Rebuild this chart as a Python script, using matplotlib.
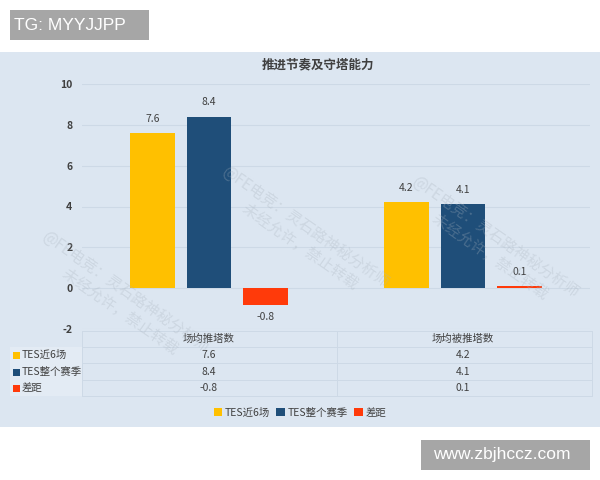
import numpy as np
import matplotlib.pyplot as plt
from matplotlib.patches import Rectangle, Patch
from matplotlib.lines import Line2D
import matplotlib.transforms as mtrans

plt.rcParams['font.family'] = ['Noto Sans CJK SC', 'DejaVu Sans']

# data
categories = ['场均推塔数', '场均被推塔数']
series_names = ['TES近6场', 'TES整个赛季', '差距']
recent6 = [7.6, 4.2]
season = [8.4, 4.1]
diff = [-0.8, 0.1]
colors = ['#ffc000', '#1f4e79', '#ff3a0a']
title = '推进节奏及守塔能力'
yticks = [-2, 0, 2, 4, 6, 8, 10]

W, H = 600, 480
fig = plt.figure(figsize=(6, 4.8), dpi=100)
fig.patch.set_facecolor('white')


def fx(px):
    return px / W


def fy(py):
    return 1 - py / H


# light blue chart area
fig.patches.append(Rectangle((0, fy(427)), 1, (427 - 52) / H, transform=fig.transFigure,
                             facecolor='#dce6f1', edgecolor='none', zorder=-5))

# header / footer boxes
fig.patches.append(Rectangle((fx(10), fy(40)), 139 / W, 30 / H, transform=fig.transFigure,
                             facecolor='#a6a6a6', edgecolor='none', zorder=-4))
fig.text(fx(14), fy(25.5), 'TG: MYYJJPP', color='white', fontsize=12.5,
         family='Liberation Sans', va='center', ha='left')
fig.patches.append(Rectangle((fx(421), fy(470)), 169 / W, 30 / H, transform=fig.transFigure,
                             facecolor='#a6a6a6', edgecolor='none', zorder=-4))
fig.text(fx(502), fy(455), 'www.zbjhccz.com', color='white', fontsize=12.5,
         family='Liberation Sans', va='center', ha='center')

# plot area
ax = fig.add_axes([fx(82), fy(329), (590 - 82) / W, (329 - 84) / H])
ax.set_zorder(2)
ax.set_facecolor('none')
ax.set_xlim(-0.5, 1.5)
ax.set_ylim(-2, 10)
for s in ax.spines.values():
    s.set_visible(False)
ax.set_yticks(yticks)
ax.set_yticklabels([str(t) for t in yticks], fontsize=7.5, color='#404040', fontweight='bold')
ax.tick_params(axis='y', length=0, pad=7)
ax.set_xticks([])
ax.grid(axis='y', color='#cdd9e6', linewidth=0.8)
ax.set_axisbelow(True)

x = np.arange(len(categories))
bw = 0.175
off = 0.222
all_series = [recent6, season, diff]
for i, (vals, c) in enumerate(zip(all_series, colors)):
    xs = x + (i - 1) * off
    ax.bar(xs, vals, width=bw, color=c, zorder=2)
    for xx, v in zip(xs, vals):
        if v >= 0:
            ax.text(xx, v + 0.45, f'{v}', ha='center', va='bottom', fontsize=7.5, color='#404040')
        else:
            ax.text(xx, v - 0.35, f'{v}', ha='center', va='top', fontsize=7.5, color='#404040')

fig.text(fx(318), fy(65), title, ha='center', va='center', fontsize=9,
         color='#404040', fontweight='bold')

# data table under the chart
tr = mtrans.blended_transform_factory(ax.transData, fig.transFigure)
row_y = [355, 372, 388]
head_y = 339
for xi, cat in zip(x, categories):
    ax.text(xi, fy(head_y), cat, transform=tr, ha='center', va='center', fontsize=7.5,
            color='#404040', clip_on=False)
    for ry, vals in zip(row_y, all_series):
        ax.text(xi, fy(ry), f'{vals[xi]}', transform=tr, ha='center', va='center',
                fontsize=7.5, color='#404040', clip_on=False)

line_c = '#cdd9e6'
for ly in [331, 347, 363, 380, 396]:
    fig.add_artist(Line2D([fx(82), fx(592)], [fy(ly), fy(ly)], color=line_c, lw=0.7, zorder=-3))
for lx in [82, 337, 592]:
    fig.add_artist(Line2D([fx(lx), fx(lx)], [fy(331), fy(396)], color=line_c, lw=0.7, zorder=-3))
fig.patches.append(Rectangle((fx(10), fy(396)), 72 / W, 49 / H, transform=fig.transFigure,
                             facecolor='#e3ebf4', edgecolor='none', zorder=-4))
for ry, name, c in zip(row_y, series_names, colors):
    fig.patches.append(Rectangle((fx(13), fy(ry + 3.5)), 6.5 / W, 6.5 / H,
                                 transform=fig.transFigure, facecolor=c, edgecolor='none'))
    fig.text(fx(22), fy(ry), name, ha='left', va='center', fontsize=7.5, color='#404040')

# legend
handles = [Patch(facecolor=c, edgecolor='none') for c in colors]
fig.legend(handles, series_names, loc='center', bbox_to_anchor=(fx(300), fy(413)), ncol=3,
           frameon=False, fontsize=7.5, handlelength=0.8, handleheight=0.8,
           handletextpad=0.3, columnspacing=0.6, labelcolor='#404040')

# faint watermark
wm1 = '@FE电竞：灵石路神秘分析师'
wm2 = '未经允许，禁止转载'
for (wx, wy) in [(300, 235), (490, 245), (120, 300)]:
    fig.text(fx(wx), fy(wy), wm1 + '\n    ' + wm2, rotation=-35, ha='center', va='center',
             fontsize=11, color='#aab4be', alpha=0.3, rotation_mode='anchor', zorder=3)

fig.savefig('out.png', dpi=100, facecolor='white')
